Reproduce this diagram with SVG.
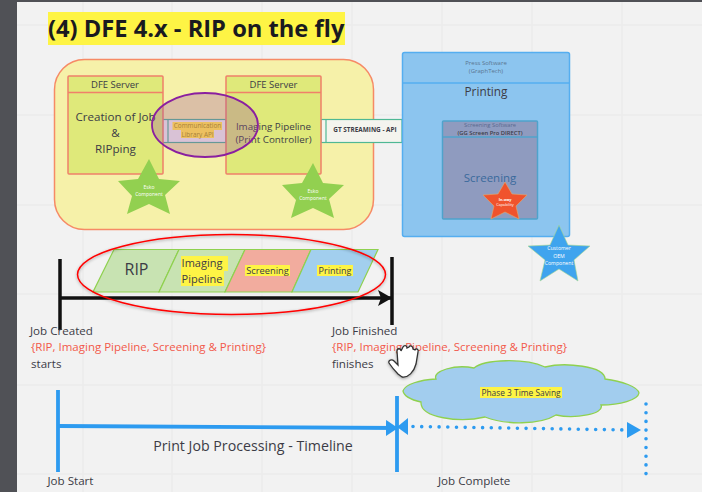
<svg xmlns="http://www.w3.org/2000/svg" width="702" height="492" viewBox="0 0 702 492">
<style>
text{font-family:"Open Sans","Noto Sans","Liberation Sans",sans-serif;fill:#3c3c46}
.m{text-anchor:middle}
.grid{stroke:#ebebeb;stroke-width:1.5}
.box{fill:#dfe97a;stroke:#f0806a;stroke-width:1.5}
.api{fill:#f4f4ee;stroke:#4fb894;stroke-width:1.2}
.par{stroke:#8fd14f;stroke-width:1.2}
.star{stroke:none}
.w{fill:#fff;font-size:5px}
.hl{fill:#fef445}
.red{fill:#f2594b;font-size:11.5px}
.t{font-size:11.6px}
.api-t{fill:#a8803a;font-size:6.4px}
.press-t{fill:#5a7590;font-size:6px}
</style>
<defs>
<filter id="sh" x="-10%" y="-20%" width="120%" height="140%"><feDropShadow dx="0" dy="1" stdDeviation="1.5" flood-color="#000" flood-opacity=".35"/></filter>
<marker id="bk" viewBox="0 0 14 16" refX="13" refY="8" markerWidth="14" markerHeight="16" markerUnits="userSpaceOnUse" orient="auto"><path d="M0 0L14 8L0 16L3 8Z" fill="#111"/></marker>
<marker id="bl" viewBox="0 0 12 16" refX="11" refY="8" markerWidth="12" markerHeight="16" markerUnits="userSpaceOnUse" orient="auto"><path d="M0 0L12 8L0 16Z" fill="#2d9bf0"/></marker>
</defs>
<rect width="702" height="492" fill="#f2f2f2"/>
<g class="grid">
<path d="M83 0V492M172 0V492M262 0V492M352 0V492M442 0V492M532 0V492M622 0V492M17 25H702M17 115H702M17 205H702M17 294H702M17 385H702M17 474H702"/>
</g>
<rect x="0" y="0" width="17" height="492" fill="#505156"/>
<rect x="0" y="0" width="702" height="2" fill="#505156"/>

<g id="title">
<rect x="48" y="12" width="297" height="33" class="hl"/>
<text x="48" y="37" font-size="23.7" font-weight="700" style="fill:#1a1a20">(4) DFE 4.x - RIP on the fly</text>
</g>

<g id="dfe-container"><rect x="54.500" y="59.500" width="319" height="170" rx="30" fill="#f6f1a9" stroke="#f68a66" stroke-width="1.5"/></g>

<g id="connectors">
<g id="api-connector">
<rect x="162" y="119.500" width="64" height="23" class="api"/>
<path d="M168 119.500V142.500" stroke="#4fb894" stroke-width="1.2"/>
</g>
<g id="gt-connector">
<rect x="321" y="119.500" width="81" height="23" class="api"/>
<path d="M326 119.500V142.500" stroke="#4fb894" stroke-width="1.2"/>
<text x="365" y="132" class="m" font-size="6.4" font-weight="700">GT STREAMING - API</text>
</g>
</g>

<g id="dfe-left">
<rect x="68" y="76" width="95" height="98" rx="1" class="box"/>
<path d="M68 92.500H163" stroke="#f0806a" stroke-width="1.5"/>
<text x="115" y="88" class="m" font-size="9.500">DFE Server</text>
<text x="115.500" y="121" class="m" font-size="11.6">Creation of Job</text>
<text x="115.500" y="137" class="m" font-size="11.6">&amp;</text>
<text x="115.500" y="153" class="m" font-size="11.6">RIPping</text>
</g>
<g id="dfe-right">
<rect x="226" y="76" width="95" height="98" rx="1" class="box"/>
<path d="M226 92.500H321" stroke="#f0806a" stroke-width="1.5"/>
<text x="273.500" y="130" class="m" font-size="9.800">Imaging Pipeline</text>
<text x="273.500" y="143" class="m" font-size="9.800">(Print Controller)</text>
<text x="273.500" y="88" class="m" font-size="9.500">DFE Server</text>
</g>
<g id="api-ellipse"><ellipse cx="205" cy="125" rx="53" ry="32" fill="#9c4ea0" fill-opacity=".3" stroke="#8a1fa0" stroke-width="1.8"/></g>
<g id="api-label">
<rect x="172.500" y="122" width="49.500" height="8" fill="#ecc060"/>
<rect x="181" y="130" width="33" height="8" fill="#ecc060"/>
<text x="197.500" y="128" class="m api-t">Communication</text>
<text x="197.500" y="136.500" class="m api-t">Library API</text>
</g>
<g id="star-esko-1">
<path class="star" fill="#92d050" d="M149 159L159 179L180 181L165 195L170 214L149 204L127 214L132 196L118 181L138 179Z"/>
<text x="149" y="189" class="m w">Esko</text><text x="149" y="196" class="m w">Component</text>
</g>
<g id="star-esko-2">
<path class="star" fill="#92d050" d="M313 163L323 183L344 185L329 199L334 218L313 208L291 218L296 200L282 185L302 183Z"/>
<text x="313" y="193" class="m w">Esko</text><text x="313" y="200" class="m w">Component</text>
</g>

<g id="press">
<rect x="402.500" y="52.500" width="167" height="184" rx="2" fill="#8cc5ef" stroke="#55aef0" stroke-width="1.500"/>
<path d="M402.500 83H569.500" stroke="#55aef0" stroke-width="1.300"/>
<text x="486" y="65" class="m press-t">Press Software</text>
<text x="486" y="73" class="m press-t">(GraphTech)</text>
<text x="486" y="96" class="m" font-size="11.800">Printing</text>
</g>
<g id="screening">
<rect x="442.500" y="121" width="95" height="98" rx="1" fill="#8f9bbf" stroke="#4fa3cc" stroke-width="1.500"/>
<path d="M442.500 137H537.500" stroke="#4fa3cc" stroke-width="1.300"/>
<text x="490" y="127" class="m" font-size="5.800" style="fill:#5a6a90">Screening Software</text>
<text x="490" y="134.500" class="m" font-size="5.800" font-weight="600">(GG Screen Pro DIRECT)</text>
<text x="490" y="182" class="m" font-size="11.500" style="fill:#3a6a9c">Screening</text>
</g>
<g id="star-red">
<path fill="#f0532d" stroke="#e8a868" stroke-width=".6" d="M505 182L512 194L527 195L516 206L519 219L505 212L491 219L494 206L483 195L498 194Z"/>
<text x="505" y="201" class="m" font-size="3.800" font-weight="700" style="fill:#fff">In-way</text><text x="505" y="206" class="m" font-size="3.800" style="fill:#fff">Capability</text>
</g>
<g id="star-oem">
<path fill="#3fa4ee" stroke="#a8d890" stroke-width=".6" d="M559 225L568 245L590 246L574 260L578 281L559 269L540 281L545 260L528 246L550 245Z"/>
<text x="559" y="250" class="m" font-size="5.200" style="fill:#fff">Customer</text>
<text x="559" y="258" class="m" font-size="5.200" style="fill:#fff">OEM</text>
<text x="559" y="265" class="m" font-size="5.200" style="fill:#fff">Component</text>
</g>

<g id="timeline-arrow">
<path d="M60 259V330M392 257V325" stroke="#111" stroke-width="3.500" fill="none"/>
<path d="M60 298H391" stroke="#111" stroke-width="3.500" fill="none" marker-end="url(#bk)"/>
</g>
<g id="phase-rip"><path class="par" fill="#c8e3b2" d="M114 249.500H179L159 292H93Z"/>
<text x="136.500" y="275" class="m" font-size="16">RIP</text></g>
<g id="phase-imaging"><path class="par" fill="#c8e3b2" d="M179 249.500H245L225 292H159Z"/>
<rect x="181" y="256" width="47" height="15" class="hl"/><rect x="181" y="271" width="43" height="15" class="hl"/>
<text x="202" y="267" class="m" font-size="11">Imaging</text><text x="202" y="283" class="m" font-size="11">Pipeline</text></g>
<g id="phase-screening"><path class="par" fill="#f2ac9e" d="M245 249.500H311L292 292H225Z"/>
<rect x="245" y="265" width="45" height="11" class="hl"/>
<text x="267.500" y="274" class="m" font-size="9.300">Screening</text></g>
<g id="phase-printing"><path class="par" fill="#a2cfee" d="M311 249.500H378L358 292H292Z"/>
<rect x="317" y="265" width="36" height="11" class="hl"/>
<text x="335" y="274" class="m" font-size="9">Printing</text></g>
<g id="phase-ellipse"><ellipse cx="231.500" cy="274.500" rx="154" ry="40" fill="none" stroke="#f00" stroke-width="1.500" filter="url(#sh)"/></g>

<g id="job-created">
<text x="30" y="335" class="t">Job Created</text>
<text x="31" y="351" class="red">{RIP, Imaging Pipeline, Screening &amp; Printing}</text>
<text x="31" y="368" class="t">starts</text>
</g>
<g id="job-finished">
<text x="332" y="335" class="t">Job Finished</text>
<text x="332" y="351" class="red">{RIP, Imaging Pipeline, Screening &amp; Printing}</text>
<text x="332" y="368" class="t">finishes</text>
</g>

<g id="cloud">
<path d="M403 391C405 384 420 380 436 379C432 371 455 364 474 368C485 359 525 358 545 367C565 362 605 366 605 379C622 381 638 387 639 393C638 400 620 405 601 405C605 414 575 419 556 415C540 425 505 425 485 417C460 423 420 418 421 402C412 400 404 396 403 391Z" fill="#a2cdee" stroke="#8fd14f" stroke-width="1.300"/>
<rect x="480" y="387" width="82" height="11" class="hl"/>
<text x="521" y="395.500" class="m" font-size="8.400">Phase 3 Time Saving</text>
</g>

<g id="processing-timeline">
<path d="M58 390V472M397 396V472" stroke="#2d9bf0" stroke-width="3.800" fill="none"/>
<path d="M58 426L397 428" stroke="#2d9bf0" stroke-width="3.800" fill="none" marker-end="url(#bl)"/>
<path d="M408 418L397 427L408 435Z" fill="#2d9bf0"/>
<path d="M413 426.500L628 430" stroke="#2d9bf0" stroke-width="3.600" stroke-linecap="round" stroke-dasharray="0 8.700" fill="none"/>
<path d="M627 422L641 430L627 438Z" fill="#2d9bf0"/>
<path d="M646 404V474" stroke="#2d9bf0" stroke-width="3.600" stroke-linecap="round" stroke-dasharray="0 8.700" fill="none"/>
<text x="253" y="451" class="m" font-size="14.200">Print Job Processing - Timeline</text>
<text x="47.500" y="485" font-size="11.600">Job Start</text>
<text x="438" y="485" font-size="11.600">Job Complete</text>
</g>

<g id="hand-cursor">
<path d="M398 374C394 370 391 366 389 363C388 360 392 359 394 361L398 365L397 351C397 348 401 348 401 351L403 347C404 345 407 345 407 348L409 347C410 345 413 346 413 349L415 350C416 348 419 349 418 352L416 364C414 372 408 378 402 377Z" fill="#fff" stroke="#333" stroke-width="1.300" filter="url(#sh)"/>
</g>
</svg>
